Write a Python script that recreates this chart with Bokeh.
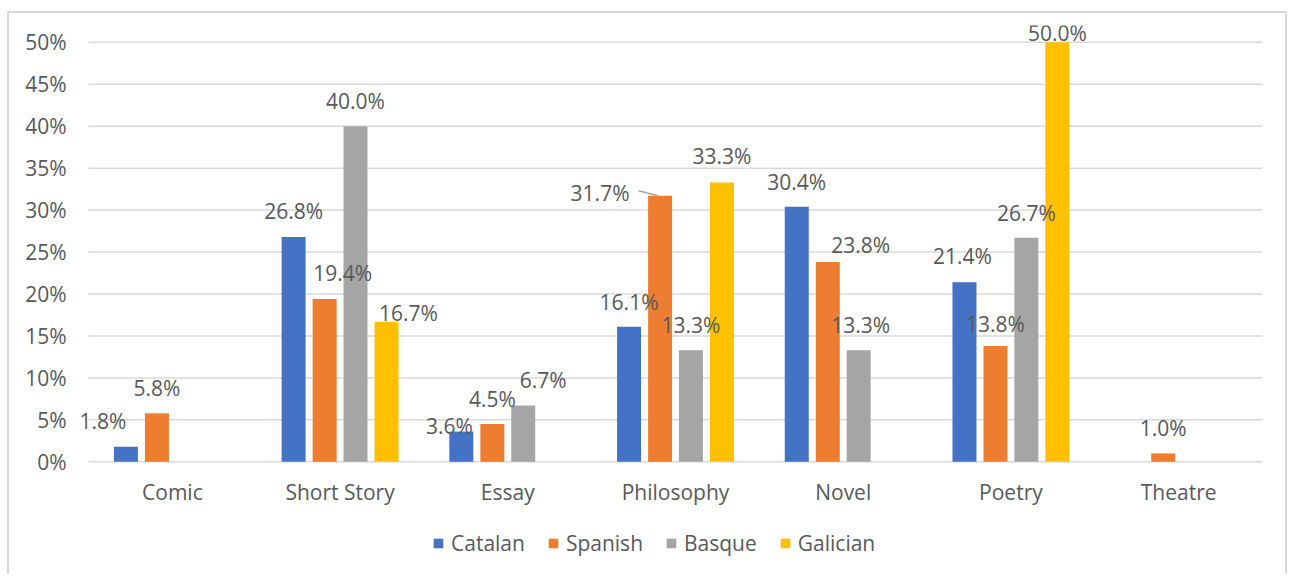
from bokeh.plotting import figure
from bokeh.models import ColumnDataSource, FactorRange, LabelSet, Legend, LegendItem, FixedTicker, CustomJSTickFormatter
from bokeh.core.properties import value
from bokeh.transform import dodge
from bokeh.embed import file_html
from bokeh.resources import INLINE

# ---- data ----
categories = ["Comic", "Short Story", "Essay", "Philosophy", "Novel", "Poetry", "Theatre"]
series = ["Catalan", "Spanish", "Basque", "Galician"]
catalan = [1.8, 26.8, 3.6, 16.1, 30.4, 21.4, 0.0]
spanish = [5.8, 19.4, 4.5, 31.7, 23.8, 13.8, 1.0]
basque = [0.0, 40.0, 6.7, 13.3, 13.3, 26.7, 0.0]
galician = [0.0, 16.7, 0.0, 33.3, 0.0, 50.0, 0.0]
y_ticks = [0, 5, 10, 15, 20, 25, 30, 35, 40, 45, 50]

colors = ["#4472C4", "#ED7D31", "#A5A5A5", "#FFC000"]
offsets = [-0.277, -0.092, 0.092, 0.277]
values = [catalan, spanish, basque, galician]

# label nudges in screen pixels (dx, dy above bar top), keyed by (category, series)
nudges = {
    ("Comic", "Catalan"): (-23, 26), ("Comic", "Spanish"): (0, 25),
    ("Short Story", "Catalan"): (0, 26), ("Short Story", "Spanish"): (18, 26),
    ("Short Story", "Basque"): (0, 25), ("Short Story", "Galician"): (22, 9),
    ("Essay", "Catalan"): (-12, 6), ("Essay", "Spanish"): (0, 25), ("Essay", "Basque"): (20, 26),
    ("Philosophy", "Catalan"): (0, 25), ("Philosophy", "Spanish"): (-60, 3),
    ("Philosophy", "Basque"): (0, 25), ("Philosophy", "Galician"): (0, 26),
    ("Novel", "Catalan"): (0, 25), ("Novel", "Spanish"): (33, 17), ("Novel", "Basque"): (2, 25),
    ("Poetry", "Catalan"): (-2, 26), ("Poetry", "Spanish"): (0, 22),
    ("Poetry", "Basque"): (0, 25), ("Poetry", "Galician"): (0, 9),
    ("Theatre", "Spanish"): (0, 25),
}

FONT = "Open Sans"
FS = "21px"
TXT = "#595959"
GRID = "#D9D9D9"

p = figure(x_range=FactorRange(*categories, range_padding=0.0716, range_padding_units="absolute"),
           y_range=(-13.67, 52),
           width=1280, height=563, output_backend="svg", toolbar_location=None,
           min_border_left=67, min_border_right=15, min_border_top=12, min_border_bottom=0,
           margin=(11, 0, 0, 7),
           styles={"border-top": "2px solid #D9D9D9", "border-left": "2px solid #D9D9D9",
                   "border-right": "2px solid #D9D9D9"})
p.outline_line_color = None
p.background_fill_color = "white"
p.border_fill_color = "white"

# horizontal gridlines spanning the category area
gsrc = ColumnDataSource(dict(c0=[categories[0]] * len(y_ticks), c1=[categories[-1]] * len(y_ticks), t=y_ticks))
p.segment(x0=dodge("c0", -0.5, range=p.x_range), x1=dodge("c1", 0.5, range=p.x_range),
          y0="t", y1="t", source=gsrc, line_color=GRID, line_width=1.5)

renderers = []
for s, col, off, vals in zip(series, colors, offsets, values):
    src = ColumnDataSource(dict(cat=categories, val=vals))
    r = p.vbar(x=dodge("cat", off, range=p.x_range), top="val", bottom=0, width=0.143,
               source=src, fill_color=col, line_color=None)
    renderers.append((s, r))
    lab_cat, lab_val, lab_txt, dxs, dys = [], [], [], [], []
    for c, v in zip(categories, vals):
        if v > 0:
            dx, dy = nudges.get((c, s), (0, 25))
            lab_cat.append(c); lab_val.append(v); lab_txt.append(f"{v:.1f}%")
            dxs.append(dx); dys.append(dy)
    lsrc = ColumnDataSource(dict(cat=lab_cat, val=lab_val, txt=lab_txt, dx=dxs, dy=dys))
    p.add_layout(LabelSet(x=dodge("cat", off, range=p.x_range), y="val", text="txt",
                          x_offset="dx", y_offset="dy", source=lsrc,
                          text_align="center", text_baseline="middle",
                          text_font=value(FONT), text_font_size=value(FS), text_color=TXT))

# leader line for Philosophy / Spanish label
ph = categories.index("Philosophy")
lsrc2 = ColumnDataSource(dict(x0=["Philosophy"], x1=["Philosophy"], y0=[spanish[ph] + 0.6], y1=[spanish[ph]]))
p.segment(x0=dodge("x0", -0.22, range=p.x_range), x1=dodge("x1", -0.105, range=p.x_range),
          y0="y0", y1="y1", source=lsrc2, line_color="#A6A6A6", line_width=1.5)

# category labels under the baseline
csrc = ColumnDataSource(dict(cat=categories, zero=[0] * len(categories)))
p.add_layout(LabelSet(x="cat", y="zero", text="cat", y_offset=-30, source=csrc,
                      text_align="center", text_baseline="middle",
                      text_font=value(FONT), text_font_size=value(FS), text_color=TXT))

# axes
p.xaxis.visible = False
p.yaxis.ticker = FixedTicker(ticks=y_ticks)
p.yaxis.formatter = CustomJSTickFormatter(code="return tick.toFixed(0) + '%';")
p.yaxis.axis_line_color = None
p.yaxis.major_tick_line_color = None
p.yaxis.minor_tick_line_color = None
p.yaxis.major_label_text_font = FONT
p.yaxis.major_label_text_font_size = FS
p.yaxis.major_label_text_color = TXT
p.yaxis.major_label_standoff = 4

p.xgrid.grid_line_color = None
p.ygrid.grid_line_color = None

items = [LegendItem(label=s, renderers=[r]) for s, r in renderers]
legend = Legend(items=items, orientation="horizontal", location=(356, 19),
                glyph_width=12, glyph_height=12, label_standoff=7, spacing=22,
                padding=0, margin=0, border_line_color=None, background_fill_alpha=0,
                label_text_font=FONT, label_text_font_size=FS, label_text_color=TXT)
p.add_layout(legend, "center")

open("out.html", "w").write(file_html(p, INLINE))
